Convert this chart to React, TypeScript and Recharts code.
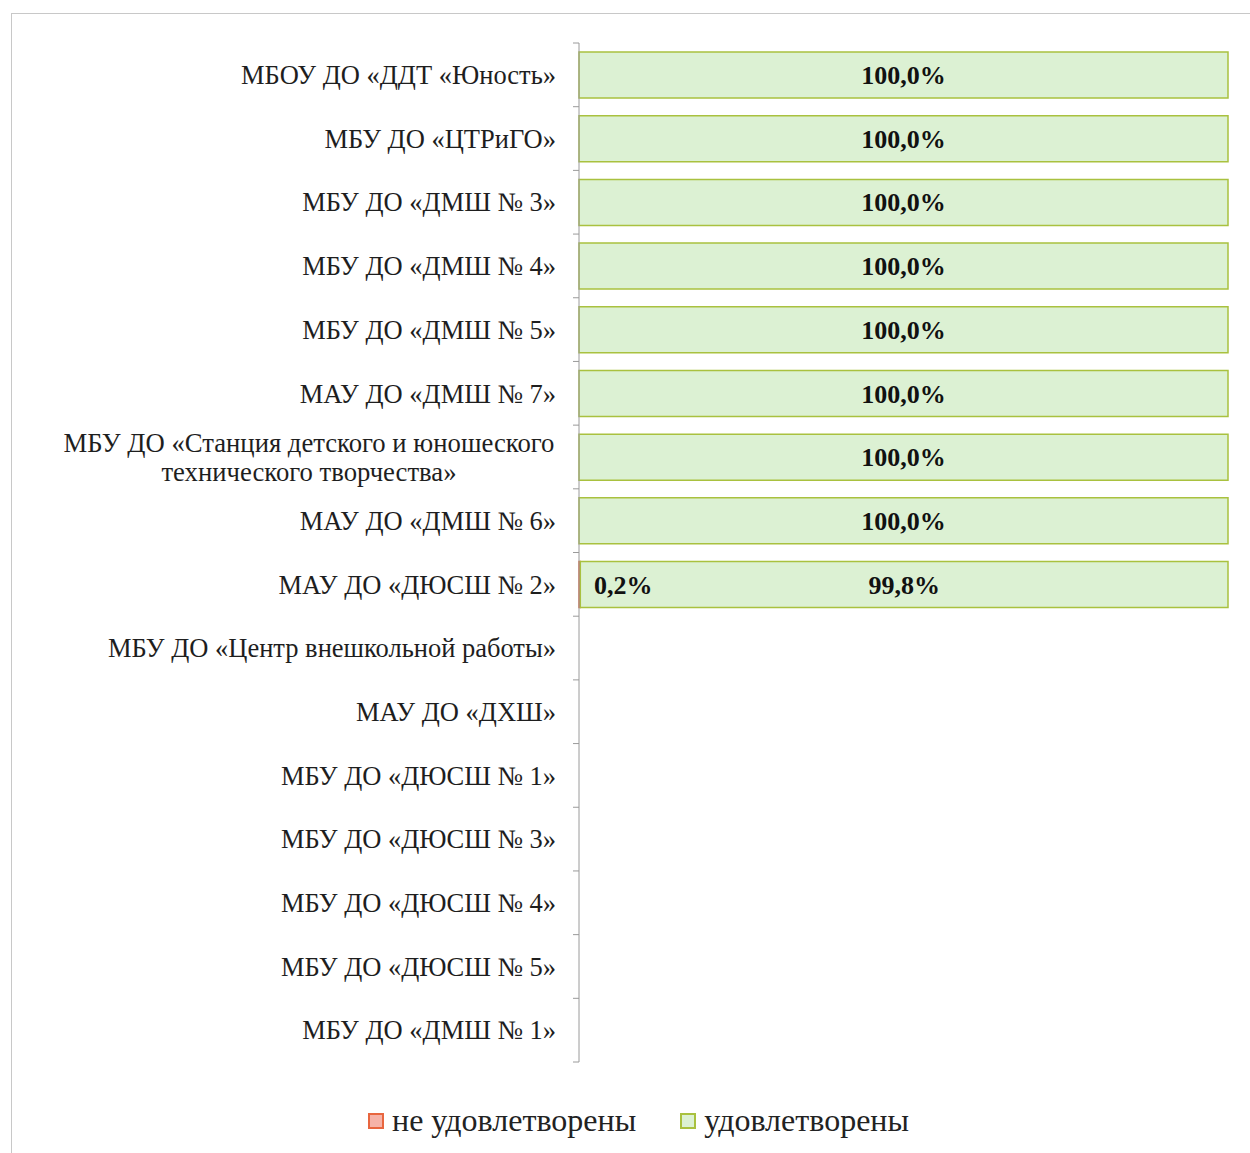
import React from 'react';
import { BarChart, Bar, XAxis, YAxis, LabelList } from 'recharts';

const categories = [
  'МБОУ ДО «ДДТ «Юность»',
  'МБУ ДО «ЦТРиГО»',
  'МБУ ДО «ДМШ № 3»',
  'МБУ ДО «ДМШ № 4»',
  'МБУ ДО «ДМШ № 5»',
  'МАУ ДО «ДМШ № 7»',
  'МБУ ДО «Станция детского и юношеского технического творчества»',
  'МАУ ДО «ДМШ № 6»',
  'МАУ ДО «ДЮСШ № 2»',
  'МБУ ДО «Центр внешкольной работы»',
  'МАУ ДО «ДХШ»',
  'МБУ ДО «ДЮСШ № 1»',
  'МБУ ДО «ДЮСШ № 3»',
  'МБУ ДО «ДЮСШ № 4»',
  'МБУ ДО «ДЮСШ № 5»',
  'МБУ ДО «ДМШ № 1»',
];

const notSatisfied: (number | null)[] = [0, 0, 0, 0, 0, 0, 0, 0, 0.2, null, null, null, null, null, null, null];
const satisfied: (number | null)[] = [100, 100, 100, 100, 100, 100, 100, 100, 99.8, null, null, null, null, null, null, null];

const seriesNames = ['не удовлетворены', 'удовлетворены'];

const data = categories.map((c, i) => ({
  name: c,
  notSatisfied: notSatisfied[i],
  satisfied: satisfied[i],
}));

const W = 1250;
const H = 1153;
const M = { top: 43, right: 22, bottom: 91, left: 0 };
const Y_W = 579;
const AXIS_X = M.left + Y_W;
const BAND = (H - M.top - M.bottom) / categories.length;
const FONT = '"Liberation Serif", "Times New Roman", serif';

const RED_FILL = '#f6b3a8';
const RED_STROKE = '#e8663f';
const GREEN_FILL = '#dcf1d3';
const GREEN_STROKE = '#a9c13f';

const fmt = (v: any) => (v == null ? '' : Number(v).toFixed(1).replace('.', ',') + '%');

const wrapLabel = (s: string): string[] => {
  if (s.length <= 40) return [s];
  const words = s.split(' ');
  const lines: string[] = [];
  let cur = '';
  for (const w of words) {
    const t = cur ? cur + ' ' + w : w;
    if (t.length > 40 && cur) {
      lines.push(cur);
      cur = w;
    } else cur = t;
  }
  if (cur) lines.push(cur);
  return lines;
};

const CategoryTick = (props: any) => {
  const { y, payload, index } = props;
  const lines = wrapLabel(String(payload.value));
  const textRight = AXIS_X - 23;
  return (
    <g>
      <line x1={AXIS_X - 6} x2={AXIS_X} y1={y - BAND / 2} y2={y - BAND / 2} stroke="#9a9a9a" strokeWidth={1} />
      {index === categories.length - 1 && (
        <line x1={AXIS_X - 6} x2={AXIS_X} y1={y + BAND / 2} y2={y + BAND / 2} stroke="#9a9a9a" strokeWidth={1} />
      )}
      {lines.length === 1 ? (
        <text x={textRight} y={y} dy="0.35em" textAnchor="end" fontFamily={FONT} fontSize={26.5} fill="#1e1e1e">
          {lines[0]}
        </text>
      ) : (
        lines.map((l, i) => (
          <text
            key={i}
            x={309}
            y={y + (i - (lines.length - 1) / 2) * 29}
            dy="0.35em"
            textAnchor="middle"
            fontFamily={FONT}
            fontSize={26.7}
            fill="#1e1e1e"
          >
            {l}
          </text>
        ))
      )}
    </g>
  );
};

const RedLabel = (props: any) => {
  const { x, y, height, value } = props;
  if (value == null || value <= 0) return null;
  return (
    <text x={x + 15} y={y + height / 2} dy="0.35em" fontFamily={FONT} fontSize={26} fontWeight="bold" fill="#111">
      {fmt(value)}
    </text>
  );
};

const GreenLabel = (props: any) => {
  const { x, y, width, height, value } = props;
  if (value == null) return null;
  return (
    <text x={x + width / 2} y={y + height / 2} dy="0.35em" textAnchor="middle" fontFamily={FONT} fontSize={26} fontWeight="bold" fill="#111">
      {fmt(value)}
    </text>
  );
};

const LegendBox = () => (
  <div
    style={{
      position: 'absolute',
      top: 1102,
      left: 368,
      display: 'flex',
      alignItems: 'center',
      fontFamily: FONT,
      fontSize: 32,
      color: '#222',
      whiteSpace: 'nowrap',
    }}
  >
    <span style={{ display: 'inline-flex', alignItems: 'center', marginRight: 44 }}>
      <span style={{ width: 12, height: 12, background: RED_FILL, border: `2px solid ${RED_STROKE}`, marginRight: 8, display: 'inline-block' }} />
      {seriesNames[0]}
    </span>
    <span style={{ display: 'inline-flex', alignItems: 'center' }}>
      <span style={{ width: 12, height: 12, background: GREEN_FILL, border: `2px solid ${GREEN_STROKE}`, marginRight: 8, display: 'inline-block' }} />
      {seriesNames[1]}
    </span>
  </div>
);

export default function App() {
  return (
    <div style={{ position: 'absolute', left: 0, top: 0, width: W, height: H, background: '#fff', overflow: 'hidden' }}>
      <div style={{ position: 'absolute', left: 11, top: 13, width: W + 20, height: H + 20, border: '1.5px solid #c8c8c8', boxSizing: 'border-box' }} />
      <div style={{ position: 'absolute', left: 0, top: 0 }}>
        <BarChart width={W} height={H} data={data} layout="vertical" margin={M} barSize={46}>
          <XAxis type="number" domain={[0, 100]} hide />
          <YAxis
            type="category"
            dataKey="name"
            width={Y_W}
            axisLine={{ stroke: '#9a9a9a' }}
            tickLine={false}
            tick={<CategoryTick />}
            interval={0}
          />
          <Bar dataKey="notSatisfied" name={seriesNames[0]} stackId="a" fill={RED_FILL} stroke={RED_STROKE} strokeWidth={1.5} isAnimationActive={false}>
            <LabelList dataKey="notSatisfied" content={<RedLabel />} />
          </Bar>
          <Bar dataKey="satisfied" name={seriesNames[1]} stackId="a" fill={GREEN_FILL} stroke={GREEN_STROKE} strokeWidth={1.5} isAnimationActive={false}>
            <LabelList dataKey="satisfied" content={<GreenLabel />} />
          </Bar>
        </BarChart>
      </div>
      <LegendBox />
    </div>
  );
}
